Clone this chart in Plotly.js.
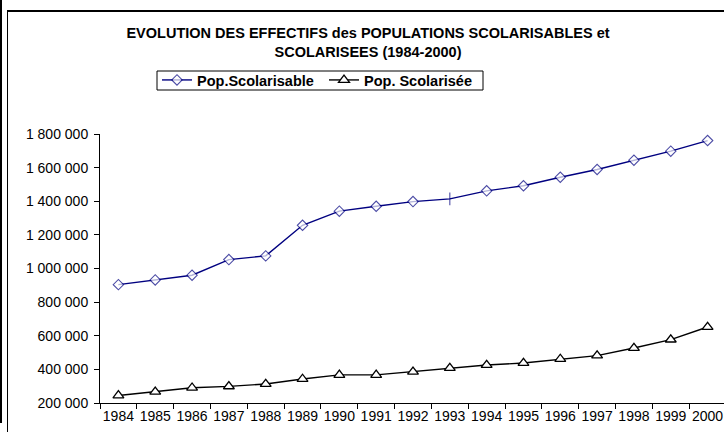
<!DOCTYPE html>
<html>
<head>
<meta charset="utf-8">
<script src="https://cdn.plot.ly/plotly-3.0.1.min.js"></script>
<style>
html, body { margin: 0; padding: 0; overflow: hidden; background: #fff; width: 724px; height: 432px; }
#chart { position: absolute; left: 0; top: 0; }
.frame { position: absolute; background: #000; z-index: 10; }
</style>
</head>
<body>
<div id="chart"></div>
<div class="frame" style="left:0px;top:0px;width:2px;height:423px;"></div>
<div class="frame" style="left:7px;top:10px;width:1px;height:422px;"></div>
<div class="frame" style="left:7px;top:10px;width:717px;height:2px;"></div>
<script>
const years = ['1984','1985','1986','1987','1988','1989','1990','1991','1992','1993','1994','1995','1996','1997','1998','1999','2000'];
const popScolarisable = [904000, 932000, 960000, 1053000, 1075000, 1257000, 1341000, 1370000, 1398000, 1414000, 1462000, 1492000, 1543000, 1589000, 1644000, 1698000, 1761000];
const popScolarisee = [245000, 267000, 291000, 299000, 313000, 343000, 367000, 367000, 386000, 408000, 426000, 438000, 462000, 482000, 527000, 577000, 652000];
const seriesNames = ['Pop.Scolarisable', 'Pop. Scolarisée'];
const titleText = 'EVOLUTION DES EFFECTIFS des POPULATIONS SCOLARISABLES et<br>SCOLARISEES (1984-2000)';

const navy = '#000080';
const symA = years.map(y => y === '1993' ? 'line-ns' : 'diamond');
const colA = years.map(y => y === '1993' ? navy : '#ffffff');
const sizeA = years.map(y => y === '1993' ? 9 : 8);

const traces = [
  {
    x: years, y: popScolarisable, name: seriesNames[0], type: 'scatter', mode: 'lines+markers',
    line: { color: navy, width: 1.4 },
    marker: { symbol: symA, size: sizeA, color: colA, line: { color: navy, width: 1.1 } }
  },
  {
    x: years, y: popScolarisee, name: seriesNames[1], type: 'scatter', mode: 'lines+markers',
    line: { color: '#000000', width: 1.4 },
    marker: { symbol: 'triangle-up', size: 9.5, color: '#ffffff', line: { color: '#000000', width: 1.3 } }
  }
];

const W = 726, H = 432;
const L = 100, T = 134, B = 29;
const plotW = W - L, plotH = H - T - B;
const px2x = p => (p - L) / plotW;
const py2y = p => (H - B - p) / plotH;

const layout = {
  width: W, height: H,
  margin: { l: L, r: 0, t: T, b: B, pad: 0 },
  paper_bgcolor: '#ffffff', plot_bgcolor: '#ffffff',
  separators: '. ',
  font: { family: 'Liberation Sans, Arial, sans-serif', size: 14, color: '#000' },
  title: {
    text: titleText,
    font: { family: 'Liberation Sans, Arial, sans-serif', size: 14.5, weight: 'bold', color: '#000' },
    xref: 'container', yref: 'container', x: 368 / W, xanchor: 'center', y: 1 - 38 / H, yanchor: 'top'
  },
  showlegend: true,
  legend: {
    orientation: 'h', xref: 'container', yref: 'container',
    x: 157 / W, xanchor: 'left', y: 1 - 64 / H, yanchor: 'top',
    borderwidth: 0, bgcolor: 'rgba(0,0,0,0)', entrywidth: 122, entrywidthmode: 'pixels',
    font: { family: 'Liberation Sans, Arial, sans-serif', size: 14.5, weight: 'bold', color: '#000' }
  },
  shapes: [
    { type: 'rect', xref: 'paper', yref: 'paper', x0: px2x(157), x1: px2x(483), y0: py2y(90), y1: py2y(71),
      line: { color: '#000', width: 1 }, fillcolor: 'rgba(0,0,0,0)', layer: 'above' }
  ],
  xaxis: {
    type: 'category', range: [-0.5, 16.5], tickson: 'boundaries', tickangle: 0,
    ticks: 'outside', ticklen: 5, tickcolor: '#000', tickwidth: 1,
    showline: true, linecolor: '#000', linewidth: 1, showgrid: false, zeroline: false,
    tickfont: { size: 14 }, fixedrange: true
  },
  yaxis: {
    range: [200000, 1800000], dtick: 200000, tickformat: ',d',
    ticks: 'outside', ticklen: 5, tickcolor: '#000', tickwidth: 1, ticklabelstandoff: 3,
    showline: true, linecolor: '#000', linewidth: 1, showgrid: false, zeroline: false,
    tickfont: { size: 14 }, fixedrange: true
  }
};

Plotly.newPlot('chart', traces, layout, { displayModeBar: false, staticPlot: true });
</script>
</body>
</html>
